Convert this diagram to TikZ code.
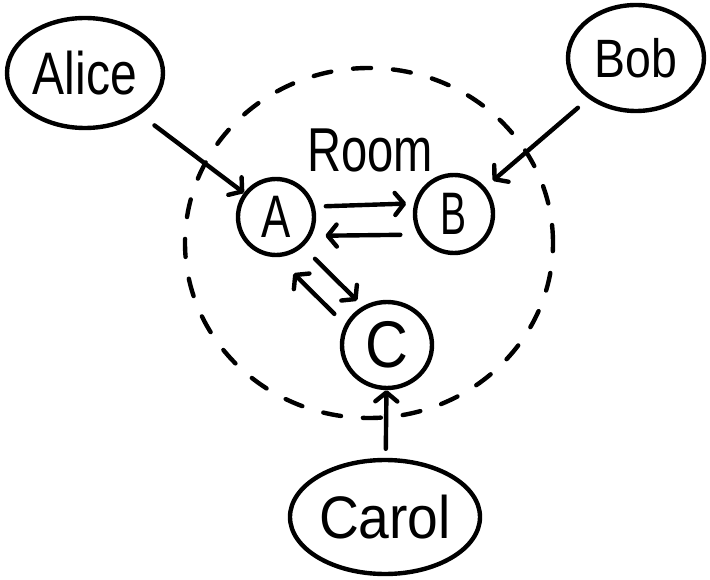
\documentclass[tikz,border=0pt]{standalone}
\usepackage{fontspec}
\usepackage{graphicx}
\setmainfont{Liberation Sans}
\usetikzlibrary{shapes.geometric,arrows.meta}
\newcommand\hw[3]{{\fontsize{#1}{#1}\selectfont\scalebox{#2}[1]{#3}}}
\begin{document}
\begin{tikzpicture}[x=1pt,y=-1pt,
  line width=4.4pt, line cap=round, line join=round,
  person/.style={draw, ellipse, inner sep=0pt},
  letter/.style={draw, circle, inner sep=0pt},
  conn/.style={-{Straight Barb[length=9pt,width=22pt,round]}},
  roomline/.style={draw, ellipse, inner sep=0pt, dash pattern=on 18pt off 22pt}]
\useasboundingbox (0,0) rectangle (710,580);
\node[roomline, minimum width=368pt, minimum height=350pt] (room) at (369,243) {};
\node[inner sep=0pt] (roomlabel) at (370,150) {\hw{62}{0.76}{Room}};
\node[person, minimum width=156pt, minimum height=110pt] (alice) at (85,73) {\hw{60}{0.8}{Alice}};
\node[person, minimum width=136pt, minimum height=106pt] (bob) at (636,58) {\hw{54}{0.86}{Bob}};
\node[letter, minimum size=76pt] (A) at (276,217) {\hw{60}{0.73}{A}};
\node[letter, minimum size=78pt] (B) at (454,214) {\hw{60}{0.65}{B}};
\node[person, minimum width=90pt, minimum height=86pt] (C) at (387,345) {\hw{66}{0.9}{C}};
\node[person, minimum width=190pt, minimum height=114pt] (carol) at (385,517) {\hw{60}{0.92}{Carol}};
\draw[conn, shorten <=18pt] (alice) -- (A);
\draw[conn, shorten <=14pt, shorten >=10pt] (bob) -- (B);
\draw[conn, shorten <=9pt] (carol) -- (C);
\draw[conn, shorten <=11pt, shorten >=8pt] (A.15) -- (B.165);
\draw[conn, shorten <=18pt, shorten >=14pt] (B.210) -- (A.-28);
\draw[conn, shorten <=17pt, shorten >=8pt] (A.-48) -- (C.122);
\draw[conn, shorten <=15pt, shorten >=23pt] (C.154) -- (A.-88);
\end{tikzpicture}
\end{document}
